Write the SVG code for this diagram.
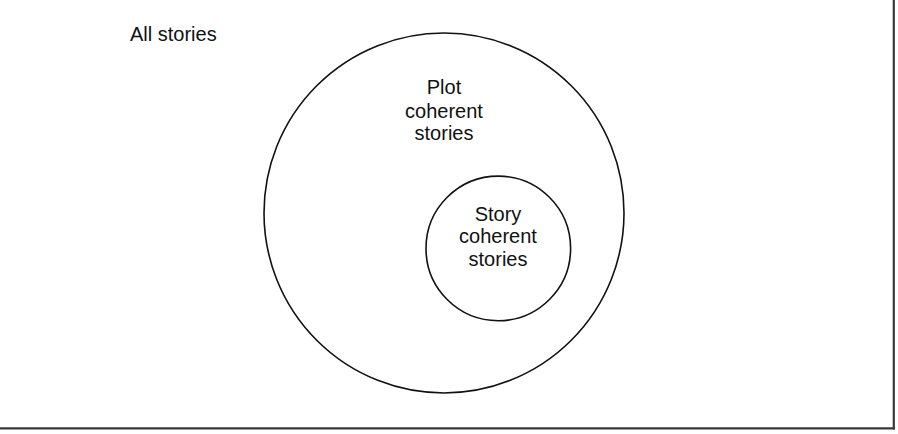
<svg xmlns="http://www.w3.org/2000/svg" width="898" height="434" viewBox="0 0 898 434">
  <style>
    .set { fill: none; stroke: #111; stroke-width: 1.6; }
    .label { font-family: "Liberation Sans", Arial, sans-serif; font-size: 20px; fill: #111; }
    .mid { text-anchor: middle; }
    .frame { stroke: #3a3a3a; stroke-width: 2.2; fill: none; }
  </style>
  <rect width="898" height="434" fill="#fff"/>
  <!-- frame edges (right and bottom) -->
  <g id="frame">
    <line class="frame" x1="893.8" y1="0" x2="893.8" y2="429.4"/>
    <line class="frame" x1="0" y1="428.3" x2="894.9" y2="428.3"/>
  </g>
  <!-- universal set -->
  <g id="all-stories">
    <text class="label" x="130" y="40.5">All stories</text>
  </g>
  <!-- outer set -->
  <g id="plot-coherent">
    <circle class="set" cx="444" cy="213" r="180"/>
    <text class="label mid" x="444" y="94.3">Plot</text>
    <text class="label mid" x="444" y="117.5">coherent</text>
    <text class="label mid" x="444" y="140.3">stories</text>
  </g>
  <!-- inner set -->
  <g id="story-coherent">
    <circle class="set" cx="498.3" cy="248.4" r="72.3"/>
    <text class="label mid" x="498" y="220.5">Story</text>
    <text class="label mid" x="498" y="243.2">coherent</text>
    <text class="label mid" x="498" y="266">stories</text>
  </g>
  <g id="connectors"/>
</svg>
